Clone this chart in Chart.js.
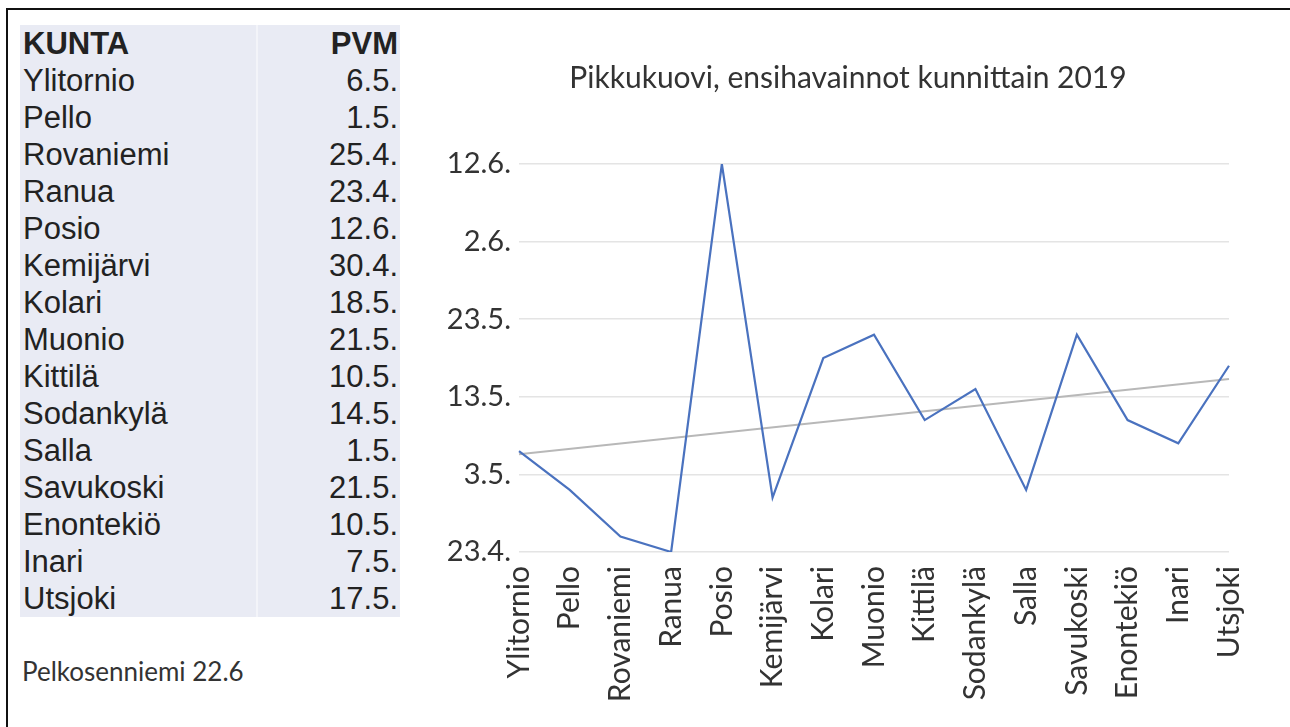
<!DOCTYPE html>
<html>
<head>
<meta charset="utf-8">
<script src="https://cdn.jsdelivr.net/npm/chart.js@4.4.1/dist/chart.umd.min.js"></script>
<style>
html,body{margin:0;padding:0;background:#fff;}
body{width:1290px;height:727px;position:relative;overflow:hidden;}
.frame{position:absolute;left:6px;top:8px;right:-4px;bottom:-4px;border-top:2px solid #111;border-left:2px solid #111;}
table{position:absolute;left:20px;top:25px;width:380px;border-collapse:collapse;background:#e9ebf4;
  font-family:"Liberation Sans",Arial,sans-serif;font-size:31px;color:#222;}
td{height:37px;line-height:37px;padding:0;}
td.k{padding-left:3px;width:233px;border-right:2px solid #f3f4f9;}
td.p{text-align:right;padding-right:2px;}
th{height:37px;line-height:37px;padding:0;font-weight:bold;}
th.k{text-align:left;padding-left:3px;border-right:2px solid #f3f4f9;}
th.p{text-align:right;padding-right:2px;}
.note{position:absolute;left:22px;top:655px;font-family:Lato,"Open Sans",sans-serif;font-size:26px;color:#333;}
#wrap{position:absolute;left:420px;top:40px;width:856px;height:687px;}
</style>
</head>
<body>
<div class="frame"></div>
<table id="tbl"></table>
<div class="note">Pelkosenniemi 22.6</div>
<div id="wrap"><canvas id="chart"></canvas></div>
<script>
const kunnat = ["Ylitornio","Pello","Rovaniemi","Ranua","Posio","Kemijärvi","Kolari","Muonio","Kittilä","Sodankylä","Salla","Savukoski","Enontekiö","Inari","Utsjoki"];
const pvm = ["6.5.","1.5.","25.4.","23.4.","12.6.","30.4.","18.5.","21.5.","10.5.","14.5.","1.5.","21.5.","10.5.","7.5.","17.5."];
// days after 23.4.
const paivat = [13, 8, 2, 0, 50, 7, 25, 28, 17, 21, 8, 28, 17, 14, 24];
// trendline ends
const trendi = [12.6, null, null, null, null, null, null, null, null, null, null, null, null, null, 22.3];
const yTickLabels = ["23.4.","3.5.","13.5.","23.5.","2.6.","12.6."];

const tbl = document.getElementById("tbl");
tbl.innerHTML = `<tr><th class="k">KUNTA</th><th class="p">PVM</th></tr>` +
  kunnat.map((k,i) => `<tr><td class="k">${k}</td><td class="p">${pvm[i]}</td></tr>`).join("");

const font = "Lato";
new Chart(document.getElementById("chart"), {
  type:"line",
  data:{
    labels:kunnat,
    datasets:[
      {data:paivat,borderColor:"#4a72bf",borderWidth:2.2,pointRadius:0,tension:0},
      {data:trendi,borderColor:"#b8b8b8",borderWidth:2,pointRadius:0,spanGaps:true}
    ]
  },
  options:{
    responsive:true, maintainAspectRatio:false, animation:false,
    layout:{padding:0},
    plugins:{
      legend:{display:false}, tooltip:{enabled:false},
      title:{display:true,text:"Pikkukuovi, ensihavainnot kunnittain 2019",color:"#333",
        font:{family:font,size:30,weight:"normal"},padding:{top:20,bottom:68}}
    },
    scales:{
      x:{
        offset:false,
        grid:{display:false}, border:{display:false},
        ticks:{color:"#333",font:{family:font,size:30},maxRotation:90,minRotation:90,autoSkip:false,padding:6},
        afterFit:(s)=>{ s.height = 175; }
      },
      y:{
        min:0,max:50,
        grid:{color:"#e4e4e4",lineWidth:1.5,drawTicks:false}, border:{display:false},
        ticks:{stepSize:10,color:"#333",font:{family:font,size:29},padding:8,
          callback:(v)=>yTickLabels[Math.round(v/10)]},
        afterFit:(s)=>{ s.width = 99; }
      },
      // empty space on the right side of the plot
      y2:{
        position:"right", min:0, max:50,
        grid:{display:false}, border:{display:false}, ticks:{display:false},
        afterFit:(s)=>{ s.width = 47; }
      }
    }
  }
});
</script>
</body>
</html>
